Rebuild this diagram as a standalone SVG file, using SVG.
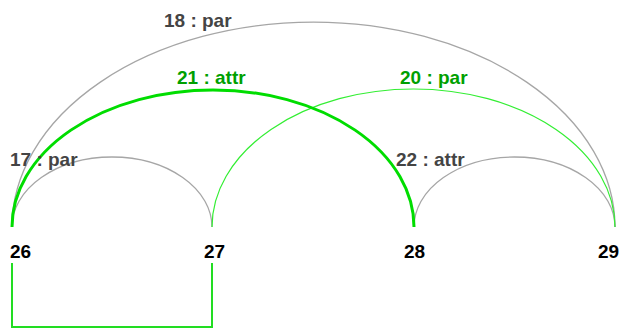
<svg xmlns="http://www.w3.org/2000/svg" width="621" height="329" viewBox="0 0 621 329">
<style>
.arc{fill:none}
.gray{stroke:#a6a6a6;stroke-width:1.3}
.gthick{stroke:#00dd00;stroke-width:3}
.gthin{stroke:#33ee33;stroke-width:1.2}
.lbl{font-family:"Liberation Sans",Arial,sans-serif;font-weight:bold;font-size:19px}
.lg{fill:#444444}
.lgr{fill:#00a000}
.node{font-family:"Liberation Sans",Arial,sans-serif;font-weight:bold;font-size:19px;fill:#000}
</style>
<rect width="621" height="329" fill="#fff"/>
<g id="connectors">
<path id="e18" class="arc gray" d="M12,227 A301.5,205 0 0 1 615,227"/>
<path id="e17" class="arc gray" d="M12,227 A100,70 0 0 1 212,227"/>
<path id="e22" class="arc gray" d="M414,227 A100.5,70 0 0 1 615,227"/>
<path id="e20" class="arc gthin" d="M212,227 A201.5,138 0 0 1 615,227"/>
<path id="e21" class="arc gthick" d="M12,227 A201,137 0 0 1 414,227"/>
<path id="bracket" class="arc" stroke="#22dd22" stroke-width="2" d="M12,263 V327 H212 V263"/>
<text class="lbl lg" x="10" y="166">17 : par</text>
<text class="lbl lg" x="164" y="27">18 : par</text>
<text class="lbl lgr" x="177" y="84">21 : attr</text>
<text class="lbl lgr" x="400" y="84">20 : par</text>
<text class="lbl lg" x="396" y="166">22 : attr</text>
</g>
<g id="n26"><text class="node" x="10" y="258">26</text></g>
<g id="n27"><text class="node" x="204" y="258">27</text></g>
<g id="n28"><text class="node" x="404" y="258">28</text></g>
<g id="n29"><text class="node" x="598" y="258">29</text></g>
</svg>
